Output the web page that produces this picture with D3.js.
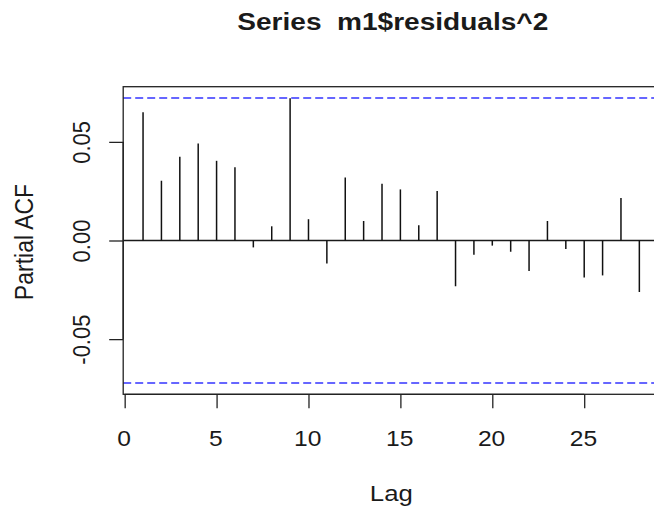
<!DOCTYPE html>
<html>
<head>
<meta charset="utf-8">
<script src="https://cdn.jsdelivr.net/npm/d3@7"></script>
<style>
  html, body { margin: 0; padding: 0; background: #fff; overflow: hidden; }
  svg { display: block; }
  text { font-family: "Liberation Sans", Arial, sans-serif; fill: #1a1a1a; }
</style>
</head>
<body>
<svg id="chart" width="654" height="510"></svg>
<script>
// Partial autocorrelation of the squared residuals, lags 1..28
const lags = d3.range(1, 29);
const pacfValues = [
  0.0650, 0.0303, 0.0424, 0.0492, 0.0404, 0.0371, -0.0035, 0.0072, 0.0721, 0.0108,
  -0.0116, 0.0319, 0.0099, 0.0288, 0.0259, 0.0077, 0.0251, -0.0232, -0.0072, -0.0026,
  -0.0057, -0.0155, 0.0099, -0.0043, -0.0188, -0.0177, 0.0215, -0.0261
];
const confLimit = 0.0722;          // 1.96 / sqrt(n)
const xTicks = [0, 5, 10, 15, 20, 25];
const yTicks = [-0.05, 0, 0.05];
const yTickLabels = ["-0.05", "0.00", "0.05"];
const titleText = "Series  m1$residuals^2";
const xLabel = "Lag";
const yLabel = "Partial ACF";

const svg = d3.select("#chart");
const plotLeft = 123.2, plotRight = 659.2, plotTop = 86.7, plotBottom = 394.3;
const sx = 1.12; // horizontal glyph stretch of the text

// R-style 4% axis extension
const xr = d3.extent(lags);
const xpad = (xr[1] - xr[0]) * 0.04;
const ymax = d3.max([confLimit, d3.max(pacfValues.map(Math.abs))]);
const ypad = ymax * 2 * 0.04;

const x = d3.scaleLinear().domain([xr[0] - xpad, xr[1] + xpad]).range([plotLeft, plotRight]);
const y = d3.scaleLinear().domain([-ymax - ypad, ymax + ypad]).range([plotBottom, plotTop]);

// zero reference line
svg.append("line")
  .attr("x1", plotLeft).attr("x2", plotRight)
  .attr("y1", y(0)).attr("y2", y(0))
  .attr("stroke", "#1a1a1a").attr("stroke-width", 1.3);

// PACF spikes
svg.append("g").selectAll("line")
  .data(lags.map((l, i) => ({ lag: l, v: pacfValues[i] })))
  .join("line")
  .attr("x1", d => x(d.lag)).attr("x2", d => x(d.lag))
  .attr("y1", y(0)).attr("y2", d => y(d.v))
  .attr("stroke", "#111").attr("stroke-width", 1.5);

// confidence bounds
svg.append("g").selectAll("line")
  .data([confLimit, -confLimit])
  .join("line")
  .attr("x1", plotLeft).attr("x2", plotRight)
  .attr("y1", d => y(d)).attr("y2", d => y(d))
  .attr("stroke", "#3535ff").attr("stroke-width", 1.5)
  .attr("stroke-dasharray", "8,4");

// plot box
svg.append("rect")
  .attr("x", plotLeft).attr("y", plotTop)
  .attr("width", plotRight - plotLeft).attr("height", plotBottom - plotTop)
  .attr("fill", "none").attr("stroke", "#222").attr("stroke-width", 1.3);

// x axis
const gx = svg.append("g")
  .attr("transform", `translate(0,${plotBottom})`)
  .call(d3.axisBottom(x).tickValues(xTicks).tickFormat(d3.format("d")).tickSize(14).tickSizeOuter(0));
gx.select(".domain")
  .attr("d", `M${x(xTicks[0])},0H${x(xTicks[xTicks.length - 1])}`)
  .attr("stroke", "#222").attr("stroke-width", 1.3);
gx.selectAll(".tick line").attr("stroke", "#222").attr("stroke-width", 1.3);
gx.selectAll(".tick text")
  .attr("y", null).attr("dy", null)
  .attr("transform", `translate(-1.2,51.4) scale(${sx},1)`)
  .attr("font-size", 22).attr("font-family", "Liberation Sans, Arial, sans-serif")
  .style("fill", "#1a1a1a");

// y axis
const gy = svg.append("g")
  .attr("transform", `translate(${plotLeft},0)`)
  .call(d3.axisLeft(y).tickValues(yTicks).tickFormat((d, i) => yTickLabels[i]).tickSize(14).tickSizeOuter(0));
gy.select(".domain")
  .attr("d", `M0,${y(yTicks[0])}V${y(yTicks[yTicks.length - 1])}`)
  .attr("stroke", "#222").attr("stroke-width", 1.3);
gy.selectAll(".tick line").attr("stroke", "#222").attr("stroke-width", 1.3);
gy.selectAll(".tick text")
  .attr("x", null).attr("dy", null)
  .attr("text-anchor", "middle")
  .attr("transform", `translate(-33,0) rotate(-90) scale(1,${sx})`)
  .attr("font-size", 22).attr("font-family", "Liberation Sans, Arial, sans-serif")
  .style("fill", "#1a1a1a");

// title (double space kept)
svg.append("text")
  .attr("x", 392.8).attr("y", 30)
  .attr("text-anchor", "middle")
  .attr("font-size", 23).attr("font-weight", "bold")
  .style("white-space", "pre")
  .attr("textLength", 311).attr("lengthAdjust", "spacingAndGlyphs")
  .text(titleText);

// axis titles
svg.append("text")
  .attr("text-anchor", "middle")
  .attr("transform", `translate(391.3,501) scale(${sx},1)`)
  .attr("font-size", 23)
  .text(xLabel);

svg.append("text")
  .attr("text-anchor", "middle")
  .attr("transform", `translate(33.3,242) rotate(-90) scale(1,${sx})`)
  .attr("font-size", 23)
  .text(yLabel);
</script>
</body>
</html>
